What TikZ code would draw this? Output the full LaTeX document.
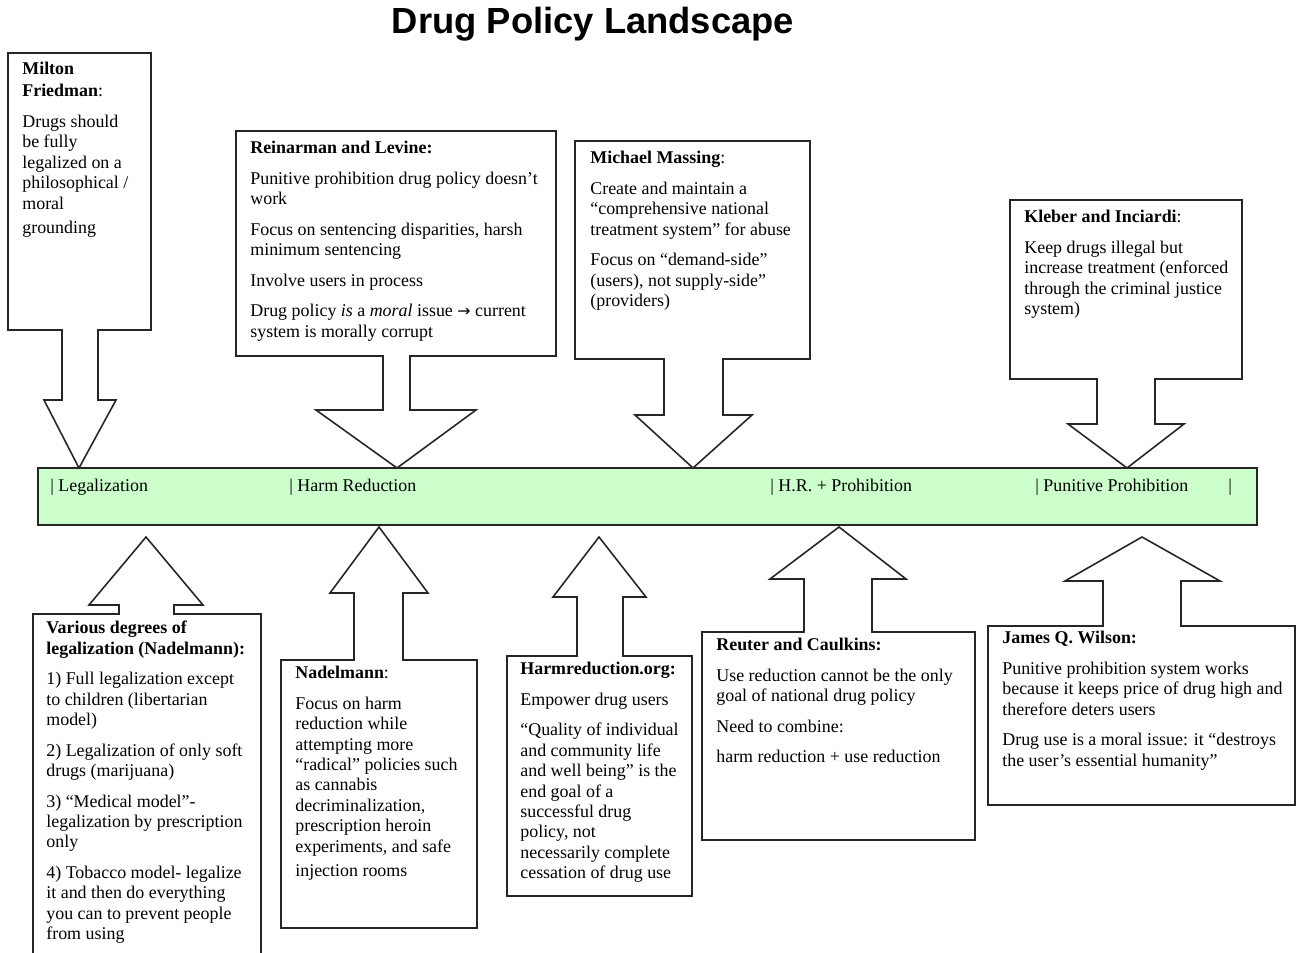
\documentclass[tikz,border=0pt]{standalone}
\usepackage{fontspec}
\setmainfont{Liberation Serif}
\newfontfamily\titlefont{Liberation Sans}
\newfontfamily\symfont{DejaVu Sans}
\definecolor{bandgreen}{HTML}{CCFFCC}
\newcommand{\pgap}{\\[5.8pt]}
\begin{document}
\begin{tikzpicture}[x=0.02cm,y=-0.02cm]
\tikzset{
  callout/.style={draw=black!85, fill=white, line width=0.9pt, line join=miter},
  note/.style={anchor=north west, align=left, inner sep=0pt,
               font=\fontsize{10.2}{11.6}\selectfont},
  bandlabel/.style={anchor=west, inner sep=0pt,
               font=\fontsize{10.2}{11.6}\selectfont},
}
\clip (0,0) rectangle (1298,953);
\fill[white] (0,0) rectangle (1298,953);

% title
\node[font=\titlefont\bfseries\fontsize{20.7}{24}\selectfont] (title) at (593,24) {Drug Policy Landscape};

% the policy band
\draw[fill=bandgreen, line width=1pt, draw=black!85] (38,468) rectangle (1257,525);
\node[bandlabel] (legal) at (50,487) {| Legalization};
\node[bandlabel] (harm) at (289,487) {| Harm Reduction};
\node[bandlabel] (hrp) at (770,487) {| H.R. + Prohibition};
\node[bandlabel] (pun) at (1035,487) {| Punitive Prohibition};
\node[bandlabel] (endbar) at (1228,487) {|};

% callouts pointing down onto the band
\draw[callout] (8,53) -- (151,53) -- (151,330) -- (98,330) -- (98,400) -- (116,400)
  -- (79,468) -- (44,400) -- (62,400) -- (62,330) -- (8,330) -- cycle;
\draw[callout] (236,131) -- (556,131) -- (556,356) -- (410,356) -- (410,410) -- (476,410)
  -- (397,468) -- (316,410) -- (383,410) -- (383,356) -- (236,356) -- cycle;
\draw[callout] (575,141) -- (810,141) -- (810,359) -- (723,359) -- (723,415) -- (752,415)
  -- (693,468) -- (635,415) -- (664,415) -- (664,359) -- (575,359) -- cycle;
\draw[callout] (1010,200) -- (1242,200) -- (1242,379) -- (1155,379) -- (1155,424) -- (1184,424)
  -- (1127,468) -- (1068,424) -- (1097,424) -- (1097,379) -- (1010,379) -- cycle;

% callouts pointing up at the band
\draw[callout] (33,614) -- (119,614) -- (119,605) -- (89,605) -- (146,537) -- (203,605)
  -- (174,605) -- (174,614) -- (261,614) -- (261,975) -- (33,975) -- cycle;
\draw[callout] (281,660) -- (354,660) -- (354,593) -- (330,593) -- (379,527) -- (428,593)
  -- (403,593) -- (403,660) -- (477,660) -- (477,928) -- (281,928) -- cycle;
\draw[callout] (507,656) -- (577,656) -- (577,597) -- (553,597) -- (599,537) -- (646,597)
  -- (623,597) -- (623,656) -- (692,656) -- (692,896) -- (507,896) -- cycle;
\draw[callout] (702,632) -- (804,632) -- (804,579) -- (770,579) -- (839,527) -- (906,579)
  -- (872,579) -- (872,632) -- (975,632) -- (975,840) -- (702,840) -- cycle;
\draw[callout] (988,626) -- (1103,626) -- (1103,581) -- (1065,581) -- (1142,537) -- (1220,581)
  -- (1181,581) -- (1181,626) -- (1295,626) -- (1295,805) -- (988,805) -- cycle;

% texts of the top callouts
\node[note] (friedman) at (22,62) {\textbf{Milton}\\[1pt]\textbf{Friedman}:\pgap
  Drugs should\\be fully\\legalized on a\\philosophical /\\moral\\[2.5pt]grounding};
\node[note] (reinarman) at (250,141) {\textbf{Reinarman and Levine:}\pgap
  Punitive prohibition drug policy doesn't\\work\pgap
  Focus on sentencing disparities, harsh\\minimum sentencing\pgap
  Involve users in process\pgap
  Drug policy \textit{is} a \textit{moral} issue {\symfont\fontsize{9}{11}\selectfont →} current\\system is morally corrupt};
\node[note] (massing) at (590,151) {\textbf{Michael Massing}:\pgap
  Create and maintain a\\“comprehensive national\\treatment system” for abuse\pgap
  Focus on “demand-side”\\(users), not supply-side”\\(providers)};
\node[note] (kleber) at (1024,210) {\textbf{Kleber and Inciardi}:\pgap
  Keep drugs illegal but\\increase treatment (enforced\\through the criminal justice\\system)};

% texts of the bottom callouts
\node[note] (degrees) at (46,621) {\textbf{Various degrees of}\\\textbf{legalization (Nadelmann):}\pgap
  1) Full legalization except\\to children (libertarian\\model)\pgap
  2) Legalization of only soft\\drugs (marijuana)\pgap
  3) “Medical model”-\\legalization by prescription\\only\pgap
  4) Tobacco model- legalize\\it and then do everything\\you can to prevent people\\from using};
\node[note] (nadelmann) at (295,666) {\textbf{Nadelmann}:\pgap
  Focus on harm\\reduction while\\attempting more\\“radical” policies such\\as cannabis\\
  decriminalization,\\prescription heroin\\experiments, and safe\\[2.5pt]injection rooms};
\node[note] (harmorg) at (520,662) {\textbf{Harmreduction.org:}\pgap
  Empower drug users\pgap
  “Quality of individual\\and community life\\and well being” is the\\end goal of a\\
  successful drug\\policy, not\\necessarily complete\\cessation of drug use};
\node[note] (reuter) at (716,638) {\textbf{Reuter and Caulkins:}\pgap
  Use reduction cannot be the only\\goal of national drug policy\pgap
  Need to combine:\pgap
  harm reduction + use reduction};
\node[note] (wilson) at (1002,631) {\textbf{James Q. Wilson:}\pgap
  Punitive prohibition system works\\because it keeps price of drug high and\\therefore deters users\pgap
  Drug use is a moral issue: it “destroys\\the user’s essential humanity”};
\end{tikzpicture}
\end{document}
